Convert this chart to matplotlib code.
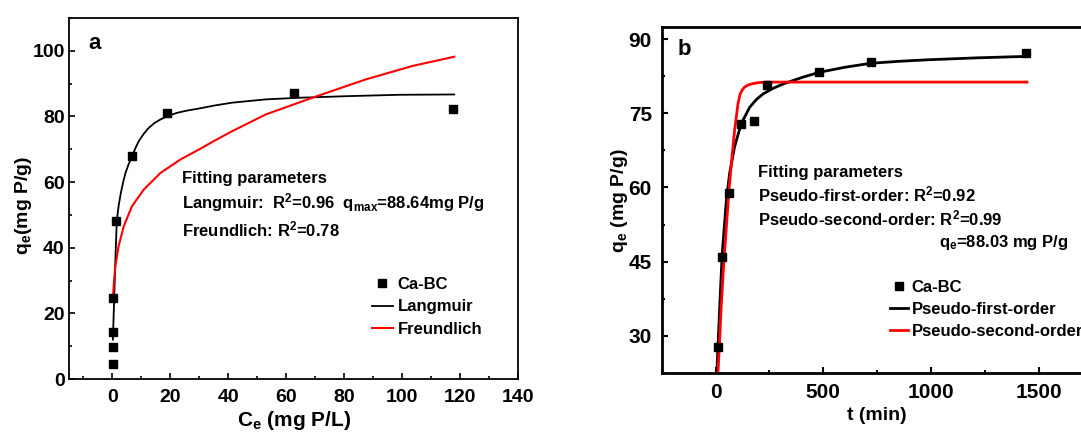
import matplotlib
matplotlib.use("Agg")
import matplotlib.pyplot as plt
from matplotlib.ticker import MultipleLocator

# (a) isotherm data, Ca-BC
ce = [0.1, 0.15, 0.2, 0.3, 1.3, 6.8, 18.9, 62.7, 117.7]
qe = [4.6, 9.7, 14.4, 24.6, 48.2, 67.9, 81.1, 87.0, 82.3]

# fitted curves
lang_c = [0.15, 0.6, 1.0, 1.5, 2.2, 2.9, 3.7, 4.5, 5.6, 6.8, 7.9, 9.1, 10.7, 12.5, 14.5, 16.6, 19.3, 22.3,
          25.8, 29.8, 35.0, 41.3, 52.9, 64.4, 81.7, 99.0, 118.0]
lang_q = [12.0, 24.6, 36.0, 48.3, 53.2, 56.7, 60.0, 62.8, 65.5, 67.9, 70.3, 72.5, 74.6, 76.5, 78.0, 79.1, 80.2, 81.1,
          81.8, 82.4, 83.3, 84.2, 85.2, 85.7, 86.2, 86.6, 86.7]
fr_c = [0.2, 0.5, 1.0, 2.1, 3.9, 6.7, 10.8, 16.6, 23.5, 29.8, 35.0, 41.3, 52.9, 69.0, 87.5, 103.6, 118.0]
fr_q = [24.9, 29.5, 34.3, 40.4, 46.5, 52.6, 57.7, 62.8, 66.9, 69.9, 72.5, 75.5, 80.6, 85.7, 91.3, 95.4, 98.2]

# (b) kinetics data
t = [10, 30, 60, 120, 180, 240, 480, 720, 1440]
qt = [27.7, 45.9, 58.9, 72.9, 73.5, 80.8, 83.4, 85.4, 87.1]

k1_t = [6, 11, 22, 31, 50, 65, 88, 119, 158, 190, 220, 265, 312, 405, 483, 600, 719, 850, 978, 1210, 1442]
k1_q = [22.6, 27.8, 38.6, 46.7, 57.4, 62.8, 68.2, 72.9, 76.2, 77.8, 78.9, 80.0, 80.9, 82.3, 83.3, 84.3, 85.1, 85.5, 85.8, 86.2, 86.5]
k2_t = [11, 19, 26, 37, 50, 62, 76, 88, 104, 114, 125, 135, 150, 173, 200, 235, 400, 800, 1445]
k2_q = [22.6, 29.2, 35.9, 44.0, 52.0, 59.4, 66.1, 71.5, 76.9, 78.9, 79.8, 80.3, 80.7, 81.0, 81.2, 81.3, 81.3, 81.3, 81.3]

plt.rcParams['font.family'] = ['Liberation Sans', 'DejaVu Sans']
plt.rcParams['font.weight'] = 'bold'
plt.rcParams['axes.labelweight'] = 'bold'
plt.rcParams['mathtext.default'] = 'regular'

W, H = 1081, 432
fig = plt.figure(figsize=(W / 100, H / 100), dpi=100)


def box(x0, y0, x1, y1):
    return [x0 / W, 1 - y1 / H, (x1 - x0) / W, (y1 - y0) / H]


def ftext(x, y, s, **kw):
    fig.text(x / W, 1 - y / H, s, va='baseline', **kw)


# ---------- panel a ----------
ax1 = fig.add_axes(box(69, 18, 518, 379))
l1, = ax1.plot(lang_c, lang_q, color='black', lw=1.3)
l2, = ax1.plot(fr_c, fr_q, color='red', lw=1.5)
p1, = ax1.plot(ce, qe, ls='none', marker='s', ms=6, color='black', zorder=3)
ax1.set_xlim(-15, 140)
ax1.set_ylim(0, 110)
ax1.xaxis.set_major_locator(MultipleLocator(20))
ax1.xaxis.set_minor_locator(MultipleLocator(10))
ax1.yaxis.set_major_locator(MultipleLocator(20))
ax1.yaxis.set_minor_locator(MultipleLocator(10))
ax1.tick_params(which='both', direction='in', width=1.2, labelsize=14)
ax1.tick_params(which='major', length=4)
ax1.tick_params(which='minor', length=2.5)
ax1.tick_params(axis='x', pad=7)
ax1.tick_params(axis='y', pad=3)
for s in ax1.spines.values():
    s.set_linewidth(1.3)
ax1.set_xlabel('C$_e$ (mg P/L)', fontsize=15, va='baseline')
ax1.xaxis.set_label_coords(294 / W, 1 - 426 / H, transform=fig.transFigure)
ax1.set_ylabel('q$_e$(mg P/g)', fontsize=14, va='center')
ax1.yaxis.set_label_coords(24 / W, 1 - 205 / H, transform=fig.transFigure)

ax1.legend([p1, l1, l2], ['Ca-BC', 'Langmuir', 'Freundlich'], loc='upper left',
           bbox_to_anchor=(372 / W, 1 - 277 / H), bbox_transform=fig.transFigure,
           frameon=False, fontsize=12, handlelength=1.24, handletextpad=0.31,
           labelspacing=0.45, borderpad=0, borderaxespad=0, numpoints=1)

ftext(88, 49, 'a', fontsize=16)
ftext(182, 183, 'Fitting parameters', fontsize=12)
ftext(182, 208, 'Langmuir:  R$^2$=0.96  q$_{max}$=88.64mg P/g', fontsize=12)
ftext(182, 236, 'Freundlich: R$^2$=0.78', fontsize=12)

# ---------- panel b ----------
ax2 = fig.add_axes(box(661.7, 26.7, 1092.7, 373))
m1, = ax2.plot(k1_t, k1_q, color='black', lw=2)
m2, = ax2.plot(k2_t, k2_q, color='red', lw=2)
p2, = ax2.plot(t, qt, ls='none', marker='s', ms=6, color='black', zorder=3)
ax2.set_xlim(-250, 1750)
ax2.set_ylim(22.5, 92.5)
ax2.xaxis.set_major_locator(MultipleLocator(500))
ax2.xaxis.set_minor_locator(MultipleLocator(250))
ax2.yaxis.set_major_locator(MultipleLocator(15))
ax2.yaxis.set_minor_locator(MultipleLocator(7.5))
ax2.tick_params(which='both', direction='in', width=1.5, labelsize=15)
ax2.tick_params(which='major', length=4.5)
ax2.tick_params(which='minor', length=2.5)
ax2.tick_params(axis='x', pad=7)
ax2.tick_params(axis='y', pad=7)
for s in ax2.spines.values():
    s.set_linewidth(2)
ax2.set_xlabel('t (min)', fontsize=14, va='baseline')
ax2.xaxis.set_label_coords(877 / W, 1 - 420 / H, transform=fig.transFigure)
ax2.set_ylabel('q$_e$ (mg P/g)', fontsize=14, va='center')
ax2.yaxis.set_label_coords(619 / W, 1 - 201 / H, transform=fig.transFigure)

ax2.legend([p2, m1, m2], ['Ca-BC', 'Pseudo-first-order', 'Pseudo-second-order'], loc='upper left',
           bbox_to_anchor=(890 / W, 1 - 280 / H), bbox_transform=fig.transFigure,
           frameon=False, fontsize=12, handlelength=1.1, handletextpad=0.2,
           labelspacing=0.42, borderpad=0, borderaxespad=0, numpoints=1)

ftext(678, 55, 'b', fontsize=16)
ftext(758, 177, 'Fitting parameters', fontsize=12)
ftext(758, 201, 'Pseudo-first-order: R$^2$=0.92', fontsize=12)
ftext(758, 225, 'Pseudo-second-order: R$^2$=0.99', fontsize=12)
ftext(1068, 247, 'q$_e$=88.03 mg P/g', fontsize=12, ha='right')

fig.savefig('out.png', dpi=100)
